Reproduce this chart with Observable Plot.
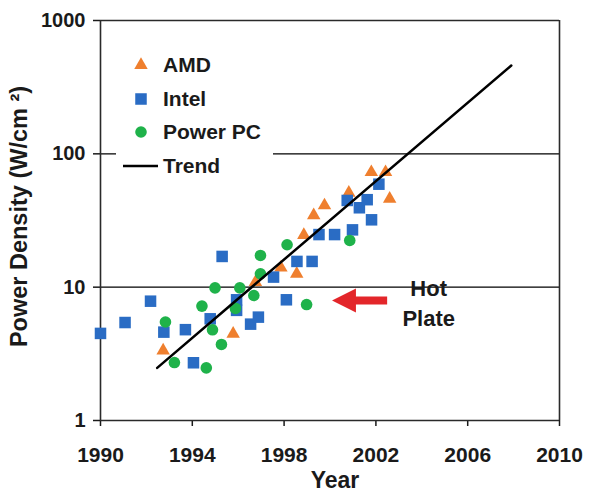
<!DOCTYPE html>
<html><head><meta charset="utf-8">
<script src="https://cdn.jsdelivr.net/npm/d3@7"></script>
<script src="https://cdn.jsdelivr.net/npm/@observablehq/plot@0.6"></script>
<style>
body{margin:0;background:#fff;}
#wrap{position:relative;width:589px;height:496px;font-family:"Liberation Sans",Arial,sans-serif;}
#legend{position:absolute;left:116px;top:48px;width:157px;height:134px;background:#fff;}
.row{display:flex;align-items:center;height:33.7px;font-weight:bold;font-size:21px;color:#1a1a1a;}
.row svg{flex:none;}
</style>
</head><body>
<div id="wrap"><div id="chart"></div><div id="legend"></div></div>
<script>
// ---- data ----
const amdYears   = [1992.73, 1995.78, 1996.75, 1997.86, 1998.55, 1998.86, 1999.29, 1999.76, 2000.82, 2001.8, 2002.42, 2002.6];
const amdValues  = [3.35, 4.47, 10.9, 14.0, 12.6, 24.6, 34.6, 41, 51, 72.8, 72.8, 46];

const intelYears  = [1990.0, 1991.07, 1992.18, 1992.76, 1993.7, 1994.05, 1994.78, 1995.3, 1995.93, 1995.93, 1996.54, 1996.88, 1997.54, 1998.1, 1998.56, 1999.22, 1999.52, 2000.2, 2000.75, 2000.98, 2001.28, 2001.62, 2001.81, 2002.13];
const intelValues = [4.5, 5.43, 7.85, 4.6, 4.8, 2.71, 5.79, 17.0, 8.04, 6.7, 5.28, 5.96, 11.9, 8.04, 15.6, 15.6, 24.8, 24.8, 44.7, 26.9, 39.4, 45.3, 32.0, 59.2];

const ppcYears  = [1992.83, 1993.22, 1994.42, 1994.61, 1994.99, 1994.88, 1995.27, 1995.88, 1996.07, 1996.68, 1996.97, 1996.97, 1998.13, 1998.98, 2000.86];
const ppcValues = [5.48, 2.72, 7.21, 2.48, 9.87, 4.79, 3.72, 6.93, 9.87, 8.66, 17.3, 12.6, 20.8, 7.41, 22.4];

const trendYears  = [1992.47, 2007.9];
const trendValues = [2.48, 460];

const xTicks = [1990, 1994, 1998, 2002, 2006, 2010];
const yTicks = [1, 10, 100, 1000];
const yGrid  = [10, 100];

const seriesNames = ["AMD", "Intel", "Power PC", "Trend"];

// annotation
const hotPlateLabel = ["Hot\nPlate"];
const hotPlateAt = [2004.3, 7.85];
const arrowTail = [2002.49, 7.94];
const arrowHeadAt = [2000.61, 7.94];
const arrowNeck = [2000.9, 7.94];

// ---- styles ----
const COLORS = {AMD: "#ef7f2e", Intel: "#2a6cc4", "Power PC": "#1fb24a", Trend: "#000"};
const SYMBOLS = {AMD: "triangle", Intel: "square", "Power PC": "circle"};
const RADII = {AMD: 5, Intel: 6.5, "Power PC": 5.8};

const toRows = (xs, ys) => xs.map((x, i) => ({year: x, value: ys[i]}));
const amd = toRows(amdYears, amdValues);
const intel = toRows(intelYears, intelValues);
const ppc = toRows(ppcYears, ppcValues);
const trend = toRows(trendYears, trendValues);

const leftTriangle = {
  draw(ctx, size) {
    const w = Math.sqrt(size);
    ctx.moveTo(-w / 2, 0);
    ctx.lineTo(w / 2, -w / 2);
    ctx.lineTo(w / 2, w / 2);
    ctx.closePath();
  }
};

const frameColor = "#2a2a2a";

const chart = Plot.plot({
  width: 589,
  height: 496,
  marginLeft: 100,
  marginRight: 30,
  marginTop: 20,
  marginBottom: 76,
  style: {fontFamily: "'Liberation Sans', Arial, sans-serif", color: "#1a1a1a", background: "#fff"},
  x: {domain: [1990, 2010]},
  y: {type: "log", domain: [1, 1000]},
  marks: [
    Plot.ruleY(yGrid, {stroke: "#000", strokeWidth: 1.3}),
    Plot.ruleY([1000], {stroke: frameColor, strokeWidth: 1.6}),
    Plot.ruleX([2010], {stroke: frameColor, strokeWidth: 1.6}),
    Plot.axisY({ticks: yTicks, tickSize: 7, tickPadding: 8, tickFormat: d => String(d), label: null, fontSize: 20, fontWeight: "bold", strokeWidth: 1.5}),
    Plot.axisX({ticks: xTicks, tickSize: 6, tickPadding: 21, tickFormat: d => String(d), label: null, fontSize: 21, fontWeight: "bold", strokeWidth: 1.5}),
    Plot.ruleX([1990], {stroke: frameColor, strokeWidth: 1.6}),
    Plot.ruleY([1], {stroke: frameColor, strokeWidth: 1.6}),
    Plot.dot(amd, {x: "year", y: "value", symbol: SYMBOLS.AMD, r: RADII.AMD, fill: COLORS.AMD}),
    Plot.dot(intel, {x: "year", y: "value", symbol: SYMBOLS.Intel, r: RADII.Intel, fill: COLORS.Intel}),
    Plot.dot(ppc, {x: "year", y: "value", symbol: SYMBOLS["Power PC"], r: RADII["Power PC"], fill: COLORS["Power PC"]}),
    Plot.line(trend, {x: "year", y: "value", stroke: "#000", strokeWidth: 2.5}),
    // Hot plate arrow + label
    Plot.link([0], {x1: () => arrowTail[0], y1: () => arrowTail[1], x2: () => arrowNeck[0], y2: () => arrowNeck[1], stroke: "#e3262a", strokeWidth: 8}),
    Plot.dot([0], {x: () => arrowHeadAt[0], y: () => arrowHeadAt[1], symbol: leftTriangle, r: 13.5, fill: "#e3262a"}),
    Plot.text(hotPlateLabel, {x: () => hotPlateAt[0], y: () => hotPlateAt[1], text: d => d, fontSize: 22, fontWeight: "bold", lineHeight: 1.36, textAnchor: "middle", fill: "#1a1a1a"}),
    // axis titles
    Plot.text(["Year"], {frameAnchor: "bottom", dx: 5, dy: 60, text: d => d, fontSize: 23, fontWeight: "bold", lineAnchor: "middle"}),
    Plot.text(["Power Density (W/cm \u00b2)"], {frameAnchor: "left", dx: -81, dy: -4, rotate: -90, text: d => d, fontSize: 23.5, fontWeight: "bold", lineAnchor: "middle", textAnchor: "middle"})
  ]
});
document.getElementById("chart").appendChild(chart);

// ---- legend (HTML overlay, covers the 100 gridline like the original box) ----
const legend = d3.select("#legend");
seriesNames.forEach(name => {
  const row = legend.append("div").attr("class", "row");
  const svg = row.append("svg").attr("width", 47).attr("height", 24);
  if (name === "Trend") {
    svg.append("line").attr("x1", 7).attr("x2", 42).attr("y1", 12).attr("y2", 12)
      .attr("stroke", "#000").attr("stroke-width", 2.5);
  } else {
    const sym = {triangle: d3.symbolTriangle, square: d3.symbolSquare, circle: d3.symbolCircle}[SYMBOLS[name]];
    const r = RADII[name];
    svg.append("path").attr("transform", "translate(25,12)")
      .attr("d", d3.symbol(sym, r * r * Math.PI)()).attr("fill", COLORS[name]);
  }
  row.append("span").text(name);
});
</script>
</body></html>
